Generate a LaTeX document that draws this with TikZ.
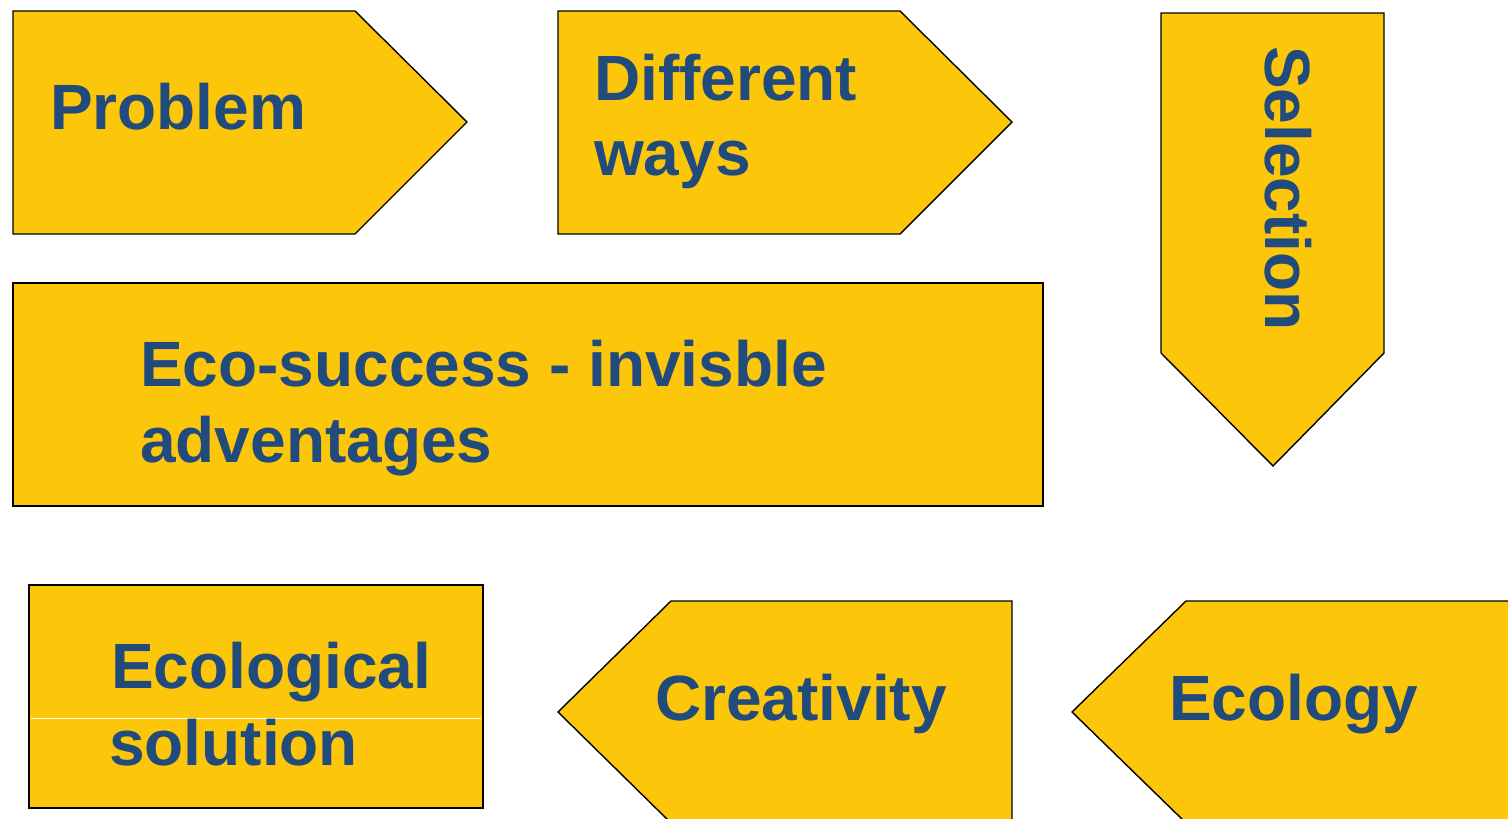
\documentclass[tikz,border=0pt]{standalone}
\usepackage{fontspec}
\setmainfont{Liberation Sans}
\definecolor{ylw}{HTML}{FCC60B}
\definecolor{txtblue}{HTML}{214A7D}
\begin{document}
\begin{tikzpicture}[x=1pt,y=-1pt,
  shp/.style={draw=black,fill=ylw,line width=1.4pt,line join=miter},
  lbl/.style={text=txtblue,font=\fontsize{64}{77}\selectfont\bfseries,inner sep=0pt,anchor=base west}]
\useasboundingbox (0,0) rectangle (1508,819);
\begin{scope}
\clip (0,0) rectangle (1508,819);
% Problem
\draw[shp] (13,11) -- (355,11) -- (467,122) -- (355,234) -- (13,234) -- cycle;
% Different ways
\draw[shp] (558,11) -- (900,11) -- (1012,122) -- (900,234) -- (558,234) -- cycle;
% Selection
\draw[shp] (1161,13) -- (1384,13) -- (1384,353) -- (1273,466) -- (1161,353) -- cycle;
% Eco-success
\draw[shp] (13,283) rectangle (1043,506);
% Ecological solution
\draw[shp] (29,585) rectangle (483,808);
\draw[white,line width=1pt] (31,718) -- (481,718);
% Creativity
\draw[shp] (1012,601) -- (1012,823) -- (671,823) -- (558,712) -- (671,601) -- cycle;
% Ecology
\draw[shp] (1520,601) -- (1186,601) -- (1072,712) -- (1186,823) -- (1520,823);
\end{scope}
\node[lbl] (tprob) at (50,129) {Problem};
\node[lbl] (tdiff1) at (594,100) {Different};
\node[lbl] (tdiff2) at (594,175) {ways};
\node[lbl,rotate=-90] (tsel) at (1265,46) {Selection};
\node[lbl] (teco1) at (140,386) {Eco-success - invisble};
\node[lbl] (teco2) at (140,462) {adventages};
\node[lbl] (tsol1) at (111,688) {Ecological};
\node[lbl] (tsol2) at (109,765) {solution};
\node[lbl] (tcre) at (655,720) {Creativity};
\node[lbl] (tecol) at (1169,720) {Ecology};
\end{tikzpicture}
\end{document}
